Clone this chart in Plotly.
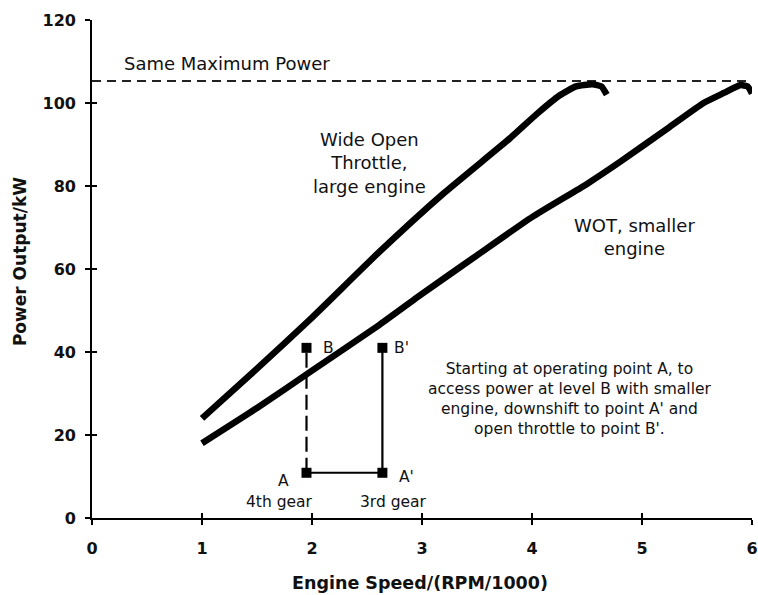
import plotly.graph_objects as go

# Data
large_x = [1.0, 1.5, 2.0, 2.6, 3.2, 3.8, 4.05, 4.25, 4.4, 4.55, 4.63, 4.68]
large_y = [24, 36, 48.3, 63.8, 78.3, 91.5, 97.5, 101.8, 104, 104.5, 104, 102]
small_x = [1.0, 1.5, 2.0, 2.6, 3.0, 3.5, 4.0, 4.5, 4.8, 5.25, 5.56, 5.75, 5.89, 5.96, 6.0]
small_y = [18, 26.5, 35.5, 46.3, 54, 63.3, 72.5, 80.5, 85.8, 94.2, 100, 102.5, 104.3, 104, 102.3]
max_power = 105.3
max_x = [0, 6]
gear4_rpm = 1.95
gear3_rpm = 2.64
level_A = 10.9
level_B = 41
x_ticks = [0, 1, 2, 3, 4, 5, 6]
y_ticks = [0, 20, 40, 60, 80, 100, 120]

FONT = "DejaVu Sans, Verdana, sans-serif"
fig = go.Figure()

fig.add_trace(go.Scatter(x=max_x, y=[max_power, max_power], mode="lines",
                         line=dict(color="#222", width=1.8, dash="9px,6px"), hoverinfo="skip"))
fig.add_trace(go.Scatter(x=large_x, y=large_y, mode="lines",
                         line=dict(color="black", width=6.5, shape="spline", smoothing=0.5)))
fig.add_trace(go.Scatter(x=small_x, y=small_y, mode="lines",
                         line=dict(color="black", width=6.5, shape="spline", smoothing=0.5)))
# A -> B dashed
fig.add_trace(go.Scatter(x=[gear4_rpm, gear4_rpm], y=[level_A, level_B], mode="lines",
                         line=dict(color="black", width=2.2, dash="15px,6px")))
# A -> A' -> B'
fig.add_trace(go.Scatter(x=[gear4_rpm, gear3_rpm, gear3_rpm], y=[level_A, level_A, level_B], mode="lines",
                         line=dict(color="black", width=2.2)))
fig.add_trace(go.Scatter(x=[gear4_rpm, gear4_rpm, gear3_rpm, gear3_rpm],
                         y=[level_A, level_B, level_A, level_B], mode="markers",
                         marker=dict(symbol="square", size=10, color="black")))

# overlay axes for inner ticks
fig.add_trace(go.Scatter(x=[None], y=[None], xaxis="x2", yaxis="y2", showlegend=False))

ann = [
    dict(x=0.273, y=109.4, text="Same Maximum Power", xanchor="left", size=18),
    dict(x=2.527, y=85.5, text="Wide Open<br>Throttle,<br>large engine", size=18),
    dict(x=4.93, y=67.8, text="WOT, smaller<br>engine", size=18),
    dict(x=4.345, y=28.7, text="Starting at operating point A, to<br>access power at level B with smaller<br>engine, downshift to point A' and<br>open throttle to point B'.", size=15.5),
    dict(x=2.08, y=level_B, text="B", xanchor="left", size=15.5),
    dict(x=2.73, y=level_B, text="B'", xanchor="left", size=15.5),
    dict(x=1.745, y=8.9, text="A", size=15.5),
    dict(x=2.855, y=10.0, text="A'", size=15.5),
    dict(x=1.70, y=3.9, text="4th gear", size=15.5),
    dict(x=2.74, y=3.9, text="3rd gear", size=15.5),
]
annotations = []
for a in ann:
    annotations.append(dict(x=a["x"], y=a["y"], text=a["text"], showarrow=False,
                            xanchor=a.get("xanchor", "center"), yanchor="middle",
                            font=dict(family=FONT, size=a["size"], color="#111"), align="center",
                            xref="x", yref="y"))
annotations.append(dict(x=0.497, y=-0.1305, xref="paper", yref="paper", text="<b>Engine Speed/(RPM/1000)</b>",
                        showarrow=False, xanchor="center", yanchor="middle",
                        font=dict(family=FONT, size=17.5, color="#111")))
annotations.append(dict(x=-0.109, y=0.514, xref="paper", yref="paper", text="<b>Power Output/kW</b>",
                        showarrow=False, xanchor="center", yanchor="middle", textangle=-90,
                        font=dict(family=FONT, size=17, color="#111")))

axis_common = dict(showgrid=False, zeroline=False, showline=True, linecolor="black", linewidth=1.6,
                   ticks="outside", ticklen=5, tickwidth=1.6, tickcolor="black", automargin=False,
                   tickfont=dict(family=FONT, size=16, color="#111", weight="bold"))
inner = dict(showticklabels=False, showgrid=False, zeroline=False, showline=False, ticks="inside",
             ticklen=5, tickwidth=1.6, tickcolor="black", automargin=False)
fig.update_layout(
    width=758, height=595,
    margin=dict(l=92, r=6, t=20, b=77, autoexpand=False),
    plot_bgcolor="white", paper_bgcolor="white",
    showlegend=False,
    annotations=annotations,
    xaxis=dict(range=[0, 6], tickvals=x_ticks, ticklabelstandoff=10, ticklabeloverflow="allow", **axis_common),
    yaxis=dict(range=[0, 120], tickvals=y_ticks, ticklabelstandoff=6, ticklabeloverflow="allow", **axis_common),
    xaxis2=dict(range=[0, 6], tickvals=x_ticks, overlaying="x", anchor="y2", **inner),
    yaxis2=dict(range=[0, 120], tickvals=y_ticks, overlaying="y", anchor="x2", **inner),
)

fig.write_html("out.html", config={"displayModeBar": False},
               post_script="document.body.style.margin='0px';document.body.style.overflow='hidden';")
